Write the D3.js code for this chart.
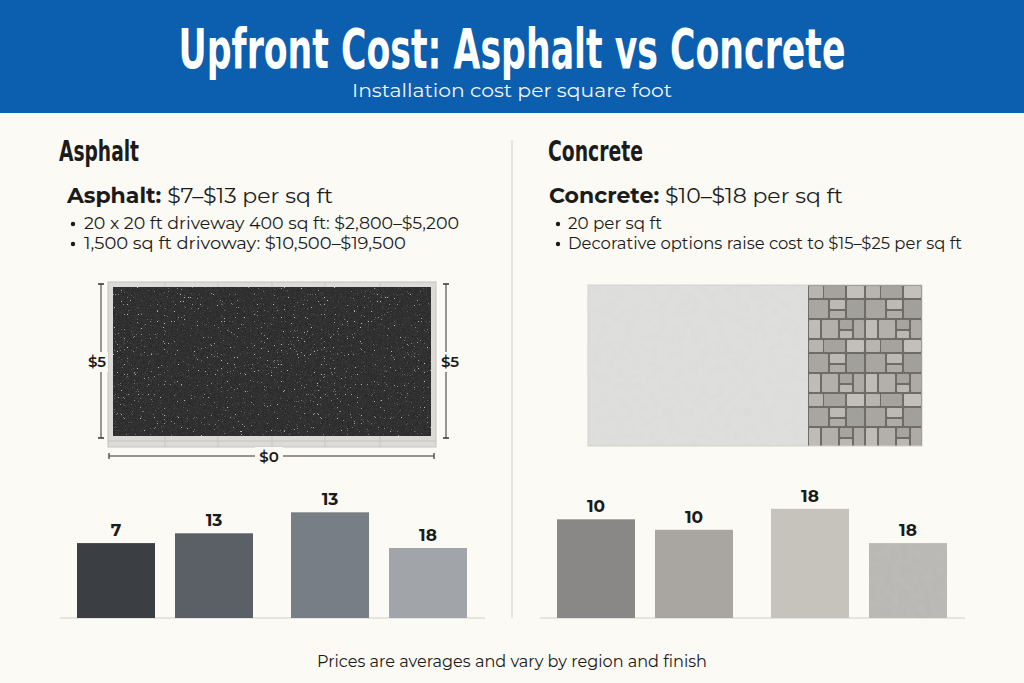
<!DOCTYPE html>
<html><head><meta charset="utf-8">
<script src="https://cdn.jsdelivr.net/npm/d3@7"></script>
<style>
html,body{margin:0;padding:0;background:#fbfaf4;}
svg{display:block;}
</style></head>
<body>
<svg id="chart" width="1024" height="683"></svg>
<script>
// ---- data ----
const titleText = "Upfront Cost: Asphalt vs Concrete";
const subtitleText = "Installation cost per square foot";
const footerText = "Prices are averages and vary by region and finish";

const asphaltHeading = "Asphalt";
const asphaltRangeLabel = "Asphalt:";
const asphaltRangeText = " $7–$13 per sq ft";
const asphaltBullets = ["20 x 20 ft driveway 400 sq ft: $2,800–$5,200", "1,500 sq ft drivoway: $10,500–$19,500"];

const concreteHeading = "Concrete";
const concreteRangeLabel = "Concrete:";
const concreteRangeText = " $10–$18 per sq ft";
const concreteBullets = ["20 per sq ft", "Decorative options raise cost to $15–$25 per sq ft"];

const asphaltCats = ["a1", "a2", "a3", "a4"];
const asphaltGroups = ["g1", "g1", "g2", "g2"];
const asphaltLabels = ["7", "13", "13", "18"];
const asphaltLevels = [10.7, 12.1, 15.1, 10.0];   // bar heights as drawn
const asphaltColors = ["#3b3e43", "#5b6067", "#787e85", "#a1a4a8"];

const concreteCats = ["c1", "c2", "c3", "c4"];
const concreteGroups = ["g1", "g1", "g2", "g2"];
const concreteLabels = ["10", "10", "18", "18"];
const concreteLevels = [14.1, 12.6, 15.6, 10.7];
const concreteColors = ["#8a8886", "#a9a6a1", "#c6c2bc", "url(#concreteBar)"];

const dimSide = "$5";
const dimBottom = "$0";

// ---- drawing ----
const svg = d3.select("#chart");
const W = 1024, H = 683;
const ink = "#1b1b1b";
const bodyFont = "Montserrat, Inter, 'Open Sans', sans-serif";
const condFont = "'DejaVu Sans Condensed', 'Liberation Sans Narrow', 'DejaVu Sans', sans-serif";

const defs = svg.append("defs");

// asphalt fine grain
const fg = defs.append("filter").attr("id", "grain").attr("x", 0).attr("y", 0).attr("width", 1).attr("height", 1);
fg.append("feTurbulence").attr("type", "fractalNoise").attr("baseFrequency", 1.6).attr("numOctaves", 1).attr("seed", 2).attr("result", "n");
fg.append("feColorMatrix").attr("in", "n").attr("type", "matrix")
  .attr("values", "0 0 0 0 0.75  0 0 0 0 0.75  0 0 0 0 0.75  1.2 0 0 0 -0.45");
fg.append("feComposite").attr("in2", "SourceGraphic").attr("operator", "in");

// asphalt sparse light speckles
const fa = defs.append("filter").attr("id", "speckle").attr("x", 0).attr("y", 0).attr("width", 1).attr("height", 1);
fa.append("feTurbulence").attr("type", "fractalNoise").attr("baseFrequency", 1.3).attr("numOctaves", 1).attr("seed", 7).attr("result", "n");
fa.append("feColorMatrix").attr("in", "n").attr("type", "matrix")
  .attr("values", "0 0 0 0 0.9  0 0 0 0 0.9  0 0 0 0 0.9  14 0 0 0 -9.6");
fa.append("feComposite").attr("in2", "SourceGraphic").attr("operator", "in");

// concrete texture
const fc = defs.append("filter").attr("id", "concreteTex").attr("x", 0).attr("y", 0).attr("width", 1).attr("height", 1);
fc.append("feTurbulence").attr("type", "fractalNoise").attr("baseFrequency", 0.12).attr("numOctaves", 4).attr("seed", 5).attr("result", "n");
fc.append("feColorMatrix").attr("in", "n").attr("type", "matrix")
  .attr("values", "0 0 0 0 0.6  0 0 0 0 0.6  0 0 0 0 0.6  0.8 0 0 0 -0.3");
fc.append("feComposite").attr("in2", "SourceGraphic").attr("operator", "in");

// stone paver pattern
const stone = defs.append("pattern").attr("id", "stones").attr("patternUnits", "userSpaceOnUse")
  .attr("x", 808).attr("y", 285).attr("width", 57).attr("height", 54);
stone.append("rect").attr("width", 57).attr("height", 54).attr("fill", "#6f6b66");
const stoneRects = [
  [1,1,14,12,"#b8b5b0"],[16,1,21,12,"#a6a39e"],[39,1,17,12,"#c3c0bb"],
  [1,15,19,18,"#a9a6a1"],[22,15,15,9,"#bdbab5"],[22,26,15,7,"#afaca7"],[39,15,17,18,"#a2a09b"],
  [1,35,11,18,"#bfbcb7"],[14,35,16,18,"#b3b0ab"],[32,35,12,9,"#a7a49f"],[32,46,12,7,"#bbb8b3"],[46,35,10,18,"#aeaba6"]
];
stone.selectAll("rect.s").data(stoneRects).join("rect").attr("class", "s")
  .attr("x", d => d[0]).attr("y", d => d[1]).attr("width", d => d[2]).attr("height", d => d[3])
  .attr("fill", d => d[4]).attr("rx", 1);

// textured concrete bar fill
const cb = defs.append("pattern").attr("id", "concreteBar").attr("patternUnits", "userSpaceOnUse")
  .attr("width", 1024).attr("height", 683);
cb.append("rect").attr("width", 1024).attr("height", 683).attr("fill", "#bab8b4");
cb.append("rect").attr("width", 1024).attr("height", 683).attr("fill", "#fff").attr("filter", "url(#concreteTex)").attr("opacity", 0.45);

// background
svg.append("rect").attr("width", W).attr("height", H).attr("fill", "#fbfaf4");

// header
svg.append("rect").attr("width", W).attr("height", 113).attr("fill", "#0c5eae");
svg.append("text").attr("x", 512).attr("y", 68).attr("text-anchor", "middle")
  .attr("font-family", condFont).attr("font-weight", "bold").attr("font-size", 55)
  .attr("fill", "#ffffff").attr("textLength", 667).attr("lengthAdjust", "spacingAndGlyphs")
  .text(titleText);
svg.append("text").attr("x", 512).attr("y", 97).attr("text-anchor", "middle")
  .attr("font-family", bodyFont).attr("font-size", 19.5).attr("fill", "#f2f5fa")
  .attr("textLength", 320).attr("lengthAdjust", "spacingAndGlyphs")
  .text(subtitleText);

// divider
svg.append("line").attr("x1", 512).attr("x2", 512).attr("y1", 140).attr("y2", 618)
  .attr("stroke", "#d9d8d2").attr("stroke-width", 1.2);

function panelText(p) {
  svg.append("text").attr("x", p.hx).attr("y", 161)
    .attr("font-family", condFont).attr("font-weight", "bold").attr("font-size", 28)
    .attr("fill", ink).attr("textLength", p.hw).attr("lengthAdjust", "spacingAndGlyphs")
    .text(p.heading);
  const t = svg.append("text").attr("x", p.rx).attr("y", 203)
    .attr("font-family", bodyFont).attr("font-size", 21).attr("fill", ink)
    .attr("textLength", p.rw).attr("lengthAdjust", "spacingAndGlyphs");
  t.append("tspan").attr("font-weight", "bold").text(p.label);
  t.append("tspan").text(p.range);
  p.bullets.forEach((b, i) => {
    const y = 229 + i * 20;
    svg.append("circle").attr("cx", p.dx).attr("cy", y - 5).attr("r", 2.2).attr("fill", ink);
    svg.append("text").attr("x", p.bx).attr("y", y).attr("font-family", bodyFont)
      .attr("font-size", 16).attr("fill", ink)
      .attr("textLength", p.bw[i]).attr("lengthAdjust", "spacingAndGlyphs").text(b);
  });
}
panelText({heading: asphaltHeading, hx: 59, hw: 80, label: asphaltRangeLabel, range: asphaltRangeText,
  rx: 67, rw: 266, bullets: asphaltBullets, dx: 73, bx: 84, bw: [375, 322]});
panelText({heading: concreteHeading, hx: 548, hw: 95, label: concreteRangeLabel, range: concreteRangeText,
  rx: 549, rw: 294, bullets: concreteBullets, dx: 558, bx: 568, bw: [94, 394]});

// asphalt illustration
const ag = svg.append("g");
ag.append("rect").attr("x", 108).attr("y", 282).attr("width", 328).attr("height", 165)
  .attr("fill", "#dcdbd7").attr("stroke", "#c3c2be").attr("stroke-width", 1);
[165, 218, 272, 325, 380].forEach(x => {
  ag.append("line").attr("x1", x).attr("x2", x).attr("y1", 282).attr("y2", 287).attr("stroke", "#c6c5c1");
  ag.append("line").attr("x1", x).attr("x2", x).attr("y1", 436).attr("y2", 447).attr("stroke", "#c6c5c1");
});
ag.append("line").attr("x1", 108).attr("x2", 436).attr("y1", 441).attr("y2", 441).attr("stroke", "#c6c5c1");
ag.append("rect").attr("x", 113).attr("y", 287).attr("width", 318).attr("height", 149).attr("fill", "#2a2a2b");
ag.append("rect").attr("x", 113).attr("y", 287).attr("width", 318).attr("height", 149).attr("fill", "#fff").attr("filter", "url(#grain)").attr("opacity", 0.22);
ag.append("rect").attr("x", 113).attr("y", 287).attr("width", 318).attr("height", 149).attr("fill", "#fff").attr("filter", "url(#speckle)").attr("opacity", 0.7);

// dimension lines
const dimStroke = "#333";
function vDim(x, labelX) {
  ag.append("line").attr("x1", x).attr("x2", x).attr("y1", 284).attr("y2", 438).attr("stroke", dimStroke).attr("stroke-width", 1);
  ag.append("line").attr("x1", x - 3).attr("x2", x + 3).attr("y1", 284).attr("y2", 284).attr("stroke", dimStroke).attr("stroke-width", 1.5);
  ag.append("line").attr("x1", x - 3).attr("x2", x + 3).attr("y1", 438).attr("y2", 438).attr("stroke", dimStroke).attr("stroke-width", 1.5);
  ag.append("rect").attr("x", labelX - 11).attr("y", 352).attr("width", 22).attr("height", 20).attr("fill", "#fbfaf4");
  ag.append("text").attr("x", labelX).attr("y", 367).attr("text-anchor", "middle")
    .attr("font-family", bodyFont).attr("font-weight", 600).attr("font-size", 15).attr("fill", ink).text(dimSide);
}
vDim(101, 97);
vDim(446, 450);
ag.append("line").attr("x1", 109).attr("x2", 434).attr("y1", 456).attr("y2", 456).attr("stroke", dimStroke).attr("stroke-width", 1);
ag.append("line").attr("x1", 109).attr("x2", 109).attr("y1", 453).attr("y2", 459).attr("stroke", dimStroke).attr("stroke-width", 1.2);
ag.append("line").attr("x1", 434).attr("x2", 434).attr("y1", 453).attr("y2", 459).attr("stroke", dimStroke).attr("stroke-width", 1.2);
ag.append("rect").attr("x", 255).attr("y", 447).attr("width", 28).attr("height", 18).attr("fill", "#fbfaf4");
ag.append("text").attr("x", 269).attr("y", 462).attr("text-anchor", "middle")
  .attr("font-family", bodyFont).attr("font-weight", 600).attr("font-size", 15).attr("fill", ink).text(dimBottom);

// concrete illustration
const cg = svg.append("g");
cg.append("rect").attr("x", 588).attr("y", 285).attr("width", 220).attr("height", 161).attr("fill", "#dededc");
cg.append("rect").attr("x", 588).attr("y", 285).attr("width", 220).attr("height", 161).attr("fill", "#fff").attr("filter", "url(#concreteTex)").attr("opacity", 0.35);
cg.append("rect").attr("x", 808).attr("y", 285).attr("width", 114).attr("height", 161).attr("fill", "url(#stones)");
cg.append("rect").attr("x", 588).attr("y", 285).attr("width", 334).attr("height", 161).attr("fill", "none").attr("stroke", "#d2d1cd").attr("stroke-width", 1);

// bars
const y = d3.scaleLinear().domain([0, 20]).range([618, 478]);
function bars(cats, groups, levels, labels, colors, x0, x1, lx0, lx1) {
  const gx = d3.scaleBand().domain(Array.from(new Set(groups))).range([x0, x1]).paddingInner(0.1776).paddingOuter(0);
  const ix = d3.scaleBand().domain([0, 1]).range([0, gx.bandwidth()]).paddingInner(0.204).paddingOuter(0);
  const xOf = i => gx(groups[i]) + ix(i % 2);
  const g = svg.append("g");
  g.append("line").attr("x1", lx0).attr("x2", lx1).attr("y1", y(0)).attr("y2", y(0))
    .attr("stroke", "#cfcfcb").attr("stroke-width", 1.2);
  const data = cats.map((c, i) => ({i, v: levels[i], l: labels[i], col: colors[i]}));
  g.selectAll("rect.bar").data(data).join("rect").attr("class", "bar")
    .attr("x", d => xOf(d.i)).attr("width", ix.bandwidth())
    .attr("y", d => y(d.v)).attr("height", d => y(0) - y(d.v))
    .attr("fill", d => d.col);
  g.selectAll("text.lbl").data(data).join("text").attr("class", "lbl")
    .attr("x", d => xOf(d.i) + ix.bandwidth() / 2).attr("y", d => y(d.v) - 7)
    .attr("text-anchor", "middle").attr("font-family", bodyFont).attr("font-weight", "bold")
    .attr("font-size", 17).attr("fill", ink).text(d => d.l);
}
bars(asphaltCats, asphaltGroups, asphaltLevels, asphaltLabels, asphaltColors, 77, 467, 60, 485);
bars(concreteCats, concreteGroups, concreteLevels, concreteLabels, concreteColors, 557, 947, 540, 965);

// footer
svg.append("text").attr("x", 512).attr("y", 667).attr("text-anchor", "middle")
  .attr("font-family", bodyFont).attr("font-size", 16).attr("fill", ink)
  .attr("textLength", 390).attr("lengthAdjust", "spacingAndGlyphs").text(footerText);
</script>
</body></html>
